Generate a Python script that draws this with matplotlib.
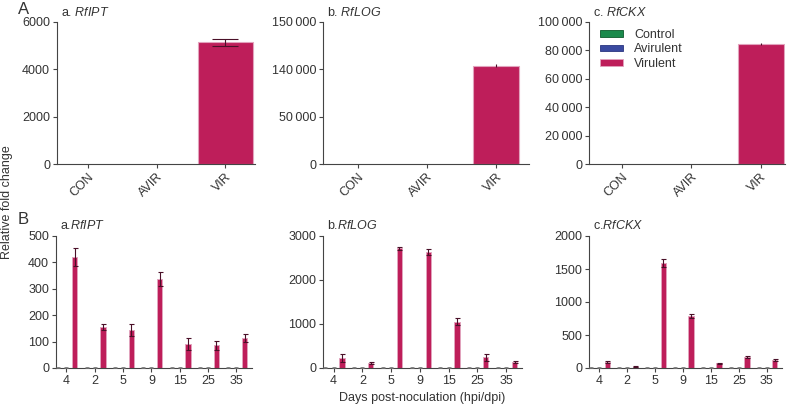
import numpy as np
import matplotlib
matplotlib.use("Agg")
import matplotlib.pyplot as plt
from matplotlib.patches import Patch

plt.rcParams['font.family'] = ['Liberation Sans', 'DejaVu Sans']
plt.rcParams['mathtext.fontset'] = 'custom'
plt.rcParams['mathtext.rm'] = 'Liberation Sans'
plt.rcParams['mathtext.it'] = 'Liberation Sans:italic'

# ---------------- data ----------------
groups = ["Control", "Avirulent", "Virulent"]
top_cats = ["CON", "AVIR", "VIR"]
top_titles = ["a. ", "b. ", "c. "]
genes = ["RfIPT", "RfLOG", "RfCKX"]

top_vals_ipt = [1.0, 1.0, 5150.0]
top_err_ipt = [0.5, 0.5, 150.0]
top_vals_log = [1.0, 1.0, 140800.0]
top_err_log = [0.5, 0.5, 300.0]
top_vals_ckx = [1.0, 1.0, 84500.0]
top_err_ckx = [0.5, 0.5, 500.0]

days = ["4", "2", "5", "9", "15", "25", "35"]
# bottom row: control, avirulent, virulent per time point
ipt_ctrl = [1, 1, 1, 1, 1, 1, 1]
ipt_avir = [1, 1, 1, 1, 1, 1, 1]
ipt_vir = [420, 155, 145, 336, 90, 86, 115]
ipt_vir_err = [33, 10, 22, 26, 23, 17, 15]

log_ctrl = [1, 1, 1, 1, 1, 1, 1]
log_avir = [1, 1, 1, 1, 1, 1, 1]
log_vir = [225, 110, 2720, 2640, 1055, 240, 140]
log_vir_err = [85, 25, 40, 65, 75, 80, 22]

ckx_ctrl = [1, 1, 1, 1, 1, 1, 1]
ckx_avir = [1, 1, 1, 1, 1, 1, 1]
ckx_vir = [98, 20, 1590, 785, 72, 162, 115]
ckx_vir_err = [15, 5, 60, 30, 10, 15, 15]

# ---------------- style ----------------
c_ctrl = "#1b8a4c"
c_avir = "#3a4aa0"
c_vir = "#be1e5a"
edge_vir = "#e2a3bd"
err_col = "#4a1028"
txt = "#333333"
spine_col = "#444444"
FS = 9

fig = plt.figure(figsize=(7.94, 4.05), dpi=100)

def style(ax):
    for s in ["top", "right"]:
        ax.spines[s].set_visible(False)
    for s in ["left", "bottom"]:
        ax.spines[s].set_color(spine_col)
        ax.spines[s].set_linewidth(0.8)
    ax.tick_params(direction="out", length=3, width=0.8, color=spine_col,
                   labelsize=FS, labelcolor=txt, pad=2)

cols = [c_ctrl, c_avir, c_vir]
edges = ["none", "none", edge_vir]

# ---------- top row ----------
top_pos = [(57, 255), (323, 529), (589, 785)]
top_data = [(top_vals_ipt, top_err_ipt), (top_vals_log, top_err_log), (top_vals_ckx, top_err_ckx)]
top_widths = [0.79, 0.66, 0.66]
top_xlim = [(-0.45, 2.43), (-0.5, 2.48), (-0.47, 2.35)]
W, H = 794.0, 405.0
axes_top = []
for i in range(3):
    l, r = top_pos[i]
    ax = fig.add_axes([l / W, 1 - 164 / H, (r - l) / W, (164 - 22) / H])
    style(ax)
    vals, errs = top_data[i]
    x = np.arange(3)
    ax.bar(x, vals, width=top_widths[i], color=cols, edgecolor=edges, linewidth=0.8,
           zorder=2)
    ax.errorbar(x[2:], vals[2:], yerr=errs[2:], fmt="none", ecolor=err_col, elinewidth=0.8,
                capsize=9.5 if i == 0 else 0, capthick=0.8, zorder=3)
    ax.set_xticks(x)
    ax.set_xticklabels(top_cats, rotation=45, ha="right", rotation_mode="anchor")
    ax.set_xlim(*top_xlim[i])
    ax.text(0.02, 1.02, top_titles[i] + r"$\mathit{" + genes[i] + "}$",
            transform=ax.transAxes, fontsize=FS, color=txt, va="bottom", ha="left")
    axes_top.append(ax)

axA, axB, axC = axes_top
axA.set_ylim(0, 6000)
axA.set_yticks([0, 2000, 4000, 6000])

# panel b: broken-style axis with uneven labels
bk = [0, 50000, 140000, 150000]
bp = [0, 1, 2, 3]
def fwd(v):
    return np.interp(v, bk, bp)
def inv(v):
    return np.interp(v, bp, bk)
axB.set_yscale("function", functions=(fwd, inv))
axB.set_ylim(0, 150000)
axB.set_yticks(bk)
axB.set_yticklabels(["0", "50\u2009000", "140\u2009000", "150\u2009000"])

axC.set_ylim(0, 100000)
axC.set_yticks([0, 20000, 40000, 60000, 80000, 100000])
axC.set_yticklabels(["0", "20\u2009000", "40\u2009000", "60\u2009000", "80\u2009000", "100\u2009000"])

handles = [Patch(facecolor=c_ctrl, edgecolor="#0d5a2c", linewidth=0.6),
           Patch(facecolor=c_avir, edgecolor="#2a3580", linewidth=0.6),
           Patch(facecolor=c_vir, edgecolor=edge_vir, linewidth=0.6)]
axC.legend(handles, groups, loc="upper left", bbox_to_anchor=(0.0, 1.03), frameon=False,
           fontsize=FS, handlelength=1.8, handleheight=0.45, handletextpad=0.9,
           labelspacing=0.2, labelcolor=txt)

# ---------- bottom row ----------
bot_pos = [(56, 252), (323, 522), (589, 782)]
bot_data = [(ipt_ctrl, ipt_avir, ipt_vir, ipt_vir_err, 500, [0, 100, 200, 300, 400, 500]),
            (log_ctrl, log_avir, log_vir, log_vir_err, 3000, [0, 1000, 2000, 3000]),
            (ckx_ctrl, ckx_avir, ckx_vir, ckx_vir_err, 2000, [0, 500, 1000, 1500, 2000])]
bot_titles = ["a.", "b.", "c."]
off = 0.29
bw = 0.19
for i in range(3):
    l, r = bot_pos[i]
    ax = fig.add_axes([l / W, 1 - 368 / H, (r - l) / W, (368 - 236) / H])
    style(ax)
    cv, av, vv, ve, ymax, yt = bot_data[i]
    x = np.arange(len(days))
    ax.bar(x - off, cv, width=bw, color=c_ctrl, zorder=2)
    ax.bar(x, av, width=bw, color=c_avir, zorder=2)
    ax.bar(x + off, vv, width=bw, color=c_vir, edgecolor=edge_vir, linewidth=0.7, zorder=2)
    ax.errorbar(x + off, vv, yerr=ve, fmt="none", ecolor=err_col, elinewidth=0.8,
                capsize=1.8, capthick=0.8, zorder=3)
    ax.errorbar(np.r_[x - off, x], np.r_[cv, av], yerr=0.004 * ymax, fmt="none",
                ecolor="#777777", elinewidth=0.6, capsize=1.5, capthick=0.6, zorder=3)
    ax.set_xticks(x)
    ax.set_xticklabels(days)
    ax.set_xlim(-0.37, 6.55)
    ax.set_ylim(0, ymax)
    ax.set_yticks(yt)
    ax.text(0.02, 1.03, bot_titles[i] + r"$\mathit{" + genes[i] + "}$",
            transform=ax.transAxes, fontsize=FS, color=txt, va="bottom", ha="left")

fig.text(18 / W, 1 - 9 / H, "A", fontsize=12, color=txt, ha="left", va="center")
fig.text(18 / W, 1 - 219 / H, "B", fontsize=12, color=txt, ha="left", va="center")
fig.text(7 / W, 1 - 202 / H, "Relative fold change", rotation=90, fontsize=FS,
         color=txt, ha="center", va="center")
fig.text(422 / W, 1 - 398 / H, "Days post-noculation (hpi/dpi)", fontsize=FS,
         color=txt, ha="center", va="center")

fig.savefig("out.png", dpi=100)
